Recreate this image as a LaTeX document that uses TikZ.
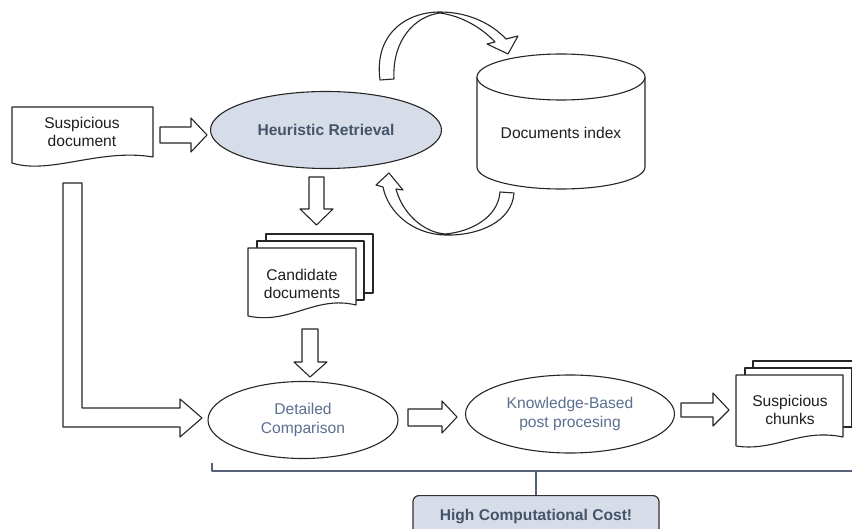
\documentclass[tikz,border=0pt]{standalone}
\usepackage{fontspec}
\setmainfont{Liberation Sans}
\usetikzlibrary{shapes.geometric}
\definecolor{hrfill}{HTML}{D7DDE8}
\definecolor{hrtext}{HTML}{44546A}
\definecolor{softtext}{HTML}{5B6F8F}
\definecolor{brk}{HTML}{56627A}
\begin{document}
\begin{tikzpicture}[x=1pt,y=-1pt,line join=round,
  ln/.style={draw=black!85,line width=1.1pt},
  blk/.style={ln,fill=white},
  txt/.style={font=\fontsize{15.6}{18.5}\selectfont,align=center,text=black!88},
  soft/.style={txt,text=softtext},
  ell/.style={ellipse,ln,fill=white,inner sep=0pt}]
\useasboundingbox (0,0) rectangle (852,529);

% Suspicious document
\draw[blk] (12,107) -- (153,107) -- (153,157) .. controls (100,148) and (50,175) .. (12,163) -- cycle;
\node[txt] (sd) at (82,132) {Suspicious\\document};

% Heuristic retrieval
\node[ell,fill=hrfill,minimum width=231pt,minimum height=77pt,
      font=\fontsize{15.6}{18.5}\selectfont\bfseries,text=hrtext] (hr) at (326,130) {Heuristic Retrieval};

% arrow sd -> hr
\draw[blk] (160,127) -- (191,127) -- (191,118) -- (207,135) -- (191,152) -- (191,143) -- (160,143) -- cycle;

% Documents index cylinder
\draw[blk] (477,77) -- (477,167) .. controls (477,179.2) and (514.6,189) .. (561,189)
  .. controls (607.4,189) and (645,179.2) .. (645,167) -- (645,77);
\draw[blk] (561,77) ellipse [x radius=84, y radius=23];
\node[txt] (di) at (561,133) {Documents index};

% curved arrow top (hr -> index)
\draw[blk] (380,80) .. controls (374,35) and (405,12) .. (440,12)
  .. controls (470,12) and (493,25) .. (506,39) -- (518,36) -- (508,54) -- (487,44) -- (495,42)
  .. controls (482,28) and (462,16) .. (440,13)
  .. controls (415,16) and (392,40) .. (394,79) -- cycle;

% curved arrow bottom (index -> hr)
\draw[blk] (514,193) .. controls (512,222) and (478,236) .. (445,235)
  .. controls (412,234) and (388,212) .. (383,187) -- (376,185) -- (389,173) -- (403,190) -- (396,189)
  .. controls (402,212) and (422,232) .. (445,234)
  .. controls (470,232) and (498,218) .. (500,192) -- cycle;

% arrow hr -> candidates
\draw[blk] (309,177) -- (324,177) -- (324,209) -- (333,209) -- (316.5,225) -- (300,209) -- (309,209) -- cycle;

% Candidate documents
\draw[blk] (266,234) rectangle (373,293);
\draw[blk] (257,241) rectangle (364,300);
\draw[blk] (248,248) -- (356,248) -- (356,305) .. controls (315,295) and (290,325) .. (248,316) -- cycle;
\node[txt] (cd) at (302,284) {Candidate\\documents};

% arrow candidates -> detailed
\draw[blk] (302,329) -- (318,329) -- (318,362) -- (327,362) -- (310,377) -- (294,362) -- (302,362) -- cycle;

% L arrow sd -> detailed
\draw[blk] (63,183) -- (63,427) -- (180,427) -- (180,437) -- (202,418) -- (180,399) -- (180,408) -- (82,408) -- (82,183) -- cycle;

% Detailed comparison
\node[ell,minimum width=190pt,minimum height=77pt] (dc) at (303,420) {};
\node[soft] at (dc) {Detailed\\Comparison};

% arrow dc -> kb
\draw[blk] (408,409) -- (442,409) -- (442,401) -- (457,417) -- (442,433) -- (442,426) -- (408,426) -- cycle;

% Knowledge-based
\node[ell,minimum width=209pt,minimum height=78pt] (kb) at (570,414) {};
\node[soft] at (kb) {Knowledge-Based\\post procesing};

% arrow kb -> chunks
\draw[blk] (681,403) -- (713,403) -- (713,393) -- (729,410) -- (713,426) -- (713,417) -- (681,417) -- cycle;

% Suspicious chunks
\draw[blk] (753,361) rectangle (862,420);
\draw[blk] (745,368) rectangle (852,427);
\draw[blk] (736,375) -- (843,375) -- (843,437) .. controls (800,428) and (775,452) .. (736,446) -- cycle;
\node[txt] (sc) at (790,410) {Suspicious\\chunks};

% bracket
\draw[brk,line width=1.5pt] (212,463) -- (212,471) -- (862,471);
\node[draw=black!80,line width=1.2pt,fill=hrfill,rounded corners=6pt,anchor=north,
      minimum width=246pt,minimum height=42pt,text=hrtext,
      font=\fontsize{15.6}{18.5}\selectfont\bfseries] (hc) at (536,495) {High Computational Cost!};
\coordinate (bm) at (536,471);
\draw[brk,line width=1.5pt] (bm) -- (hc.north);
\end{tikzpicture}
\end{document}
